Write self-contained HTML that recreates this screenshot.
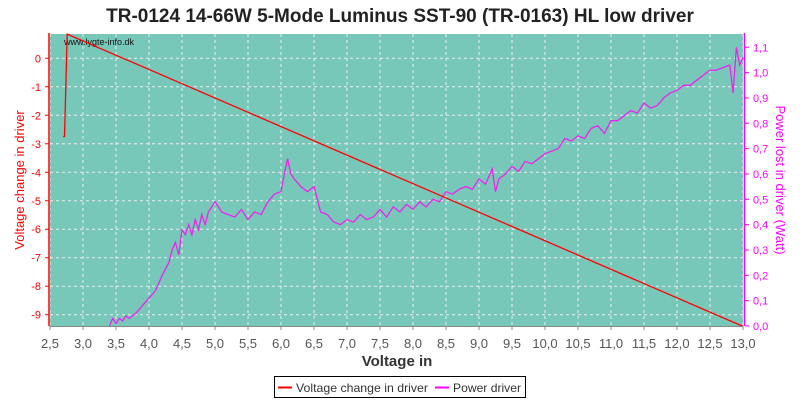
<!DOCTYPE html>
<html><head><meta charset="utf-8"><style>
body{margin:0;background:#fff;font-family:"Liberation Sans",sans-serif}
svg{display:block}
</style></head><body>
<svg id="chart" width="800" height="400" xmlns="http://www.w3.org/2000/svg" font-family="Liberation Sans, sans-serif">
<text x="400" y="22" text-anchor="middle" font-size="19" font-weight="bold" fill="#222">TR-0124 14-66W 5-Mode Luminus SST-90 (TR-0163) HL low driver</text>
<rect x="50" y="34" width="693" height="292" fill="#78c8ba"/>
<g id="grid"></g>
<text x="64" y="45" font-size="9" fill="#111">www.lygte-info.dk</text>
<g id="series"></g>
<line x1="49" y1="33" x2="49" y2="326" stroke="#f00" stroke-width="1.5"/>
<line x1="744.5" y1="33" x2="744.5" y2="326" stroke="#f0f" stroke-width="1.5"/>
<line x1="50" y1="326.5" x2="743" y2="326.5" stroke="#888" stroke-width="1"/>
<g id="axes"></g>
<text x="397" y="366" text-anchor="middle" font-size="15" font-weight="bold" fill="#333">Voltage in</text>
<text transform="translate(24,180) rotate(-90)" text-anchor="middle" font-size="13" fill="#f00">Voltage change in driver</text>
<text transform="translate(776,180) rotate(90)" text-anchor="middle" font-size="13" fill="#f0f">Power lost in driver (Watt)</text>
<g>
<rect x="274.5" y="376.5" width="251" height="21" fill="#fff" stroke="#000"/>
<line x1="278" y1="387.5" x2="292" y2="387.5" stroke="#f00" stroke-width="2"/>
<text x="296" y="392" font-size="12" fill="#333" textLength="132" lengthAdjust="spacingAndGlyphs">Voltage change in driver</text>
<line x1="435" y1="387.5" x2="449" y2="387.5" stroke="#f0f" stroke-width="2"/>
<text x="453" y="392" font-size="12" fill="#333" textLength="68" lengthAdjust="spacingAndGlyphs">Power driver</text>
</g>
</svg>
<script>
const xTicks=[2.5,3.0,3.5,4.0,4.5,5.0,5.5,6.0,6.5,7.0,7.5,8.0,8.5,9.0,9.5,10.0,10.5,11.0,11.5,12.0,12.5,13.0];
const leftTicks=[0,-1,-2,-3,-4,-5,-6,-7,-8,-9];
const rightTicks=[0.0,0.1,0.2,0.3,0.4,0.5,0.6,0.7,0.8,0.9,1.0,1.1];
const voltX=[2.70,2.72,2.76,13.0];
const voltY=[-2.75,-2.75,0.85,-9.41];
const powerX=[3.4,3.45,3.5,3.55,3.6,3.65,3.7,3.8,3.9,4.0,4.1,4.2,4.3,4.35,4.4,4.45,4.5,4.55,4.6,4.65,4.7,4.75,4.8,4.85,4.9,5.0,5.1,5.2,5.3,5.4,5.5,5.6,5.7,5.8,5.9,6.0,6.05,6.1,6.15,6.2,6.3,6.4,6.5,6.6,6.7,6.8,6.9,7.0,7.1,7.2,7.3,7.4,7.5,7.6,7.7,7.8,7.9,8.0,8.1,8.2,8.3,8.4,8.5,8.6,8.7,8.8,8.9,9.0,9.1,9.2,9.25,9.3,9.4,9.5,9.6,9.7,9.8,9.9,10.0,10.1,10.2,10.3,10.4,10.5,10.6,10.7,10.8,10.9,11.0,11.1,11.2,11.3,11.4,11.5,11.6,11.7,11.8,11.9,12.0,12.1,12.2,12.3,12.4,12.5,12.6,12.7,12.8,12.85,12.9,12.95,13.0];
const powerY=[0.00,0.03,0.01,0.03,0.02,0.04,0.03,0.05,0.08,0.11,0.14,0.20,0.25,0.30,0.33,0.28,0.38,0.36,0.40,0.36,0.42,0.38,0.44,0.40,0.45,0.49,0.45,0.44,0.43,0.46,0.42,0.45,0.44,0.49,0.52,0.53,0.60,0.66,0.60,0.58,0.55,0.53,0.55,0.45,0.44,0.41,0.40,0.42,0.41,0.44,0.42,0.43,0.46,0.43,0.47,0.45,0.48,0.46,0.49,0.47,0.50,0.49,0.53,0.52,0.54,0.55,0.54,0.58,0.56,0.62,0.53,0.58,0.60,0.63,0.61,0.65,0.64,0.66,0.68,0.69,0.70,0.74,0.73,0.75,0.74,0.78,0.79,0.76,0.81,0.81,0.83,0.85,0.84,0.88,0.86,0.87,0.90,0.92,0.93,0.95,0.95,0.97,0.99,1.01,1.01,1.02,1.03,0.92,1.10,1.03,1.06];
const NS='http://www.w3.org/2000/svg';
const X0=50,X1=743,Y0=34,Y1=326;
const xs=v=>X0+(v-2.5)/(13-2.5)*(X1-X0);
const yl=v=>58.3+(0-v)*28.49;
const yr=v=>326-v*253.4;
function mk(tag,attrs,parent){const e=document.createElementNS(NS,tag);for(const k in attrs)e.setAttribute(k,attrs[k]);parent.appendChild(e);return e;}
const grid=document.getElementById('grid'),axes=document.getElementById('axes'),series=document.getElementById('series');
const fmt=(v,d)=>v.toFixed(d).replace('.',',');
xTicks.forEach(t=>{const x=xs(t);
 const g=mk('line',{x1:x,y1:Y0,x2:x,y2:Y1,stroke:'#e8f0ee','stroke-dasharray':'3,3','stroke-width':1},grid);
 
 
 const tk=mk('line',{x1:x,y1:326,x2:x,y2:330,stroke:'#888'},axes);
 
 
 const l=mk('text',{x:x,y:348,'text-anchor':'middle','font-size':13,fill:'#555'},axes);l.textContent=fmt(t,1);
 
 
});
leftTicks.forEach(t=>{const y=yl(t);
 const g=mk('line',{x1:X0,y1:y,x2:X1,y2:y,stroke:'#e8f0ee','stroke-dasharray':'3,3','stroke-width':1},grid);
 
 
 const tk=mk('line',{x1:45,y1:y,x2:49,y2:y,stroke:'#f00'},axes);
 
 
 const l=mk('text',{x:41,y:y+4,'text-anchor':'end','font-size':11,fill:'#f00'},axes);l.textContent=String(t);
 
 
});
rightTicks.forEach(t=>{const y=yr(t);
 const tk=mk('line',{x1:745,y1:y,x2:749,y2:y,stroke:'#f0f'},axes);
 
 
 const l=mk('text',{x:753,y:y+4,'font-size':11,fill:'#f0f'},axes);l.textContent=fmt(t,1);
 
 
});
const pp=powerX.map((v,i)=>xs(v).toFixed(1)+','+yr(powerY[i]).toFixed(1)).join(' ');
const p=mk('polyline',{points:pp,fill:'none',stroke:'#ee22ee','stroke-width':1.3},series);


const vp=voltX.map((v,i)=>xs(v).toFixed(1)+','+yl(voltY[i]).toFixed(1)).join(' ');
const r=mk('polyline',{points:vp,fill:'none',stroke:'#f00','stroke-width':1.3},series);


</script>
</body></html>
